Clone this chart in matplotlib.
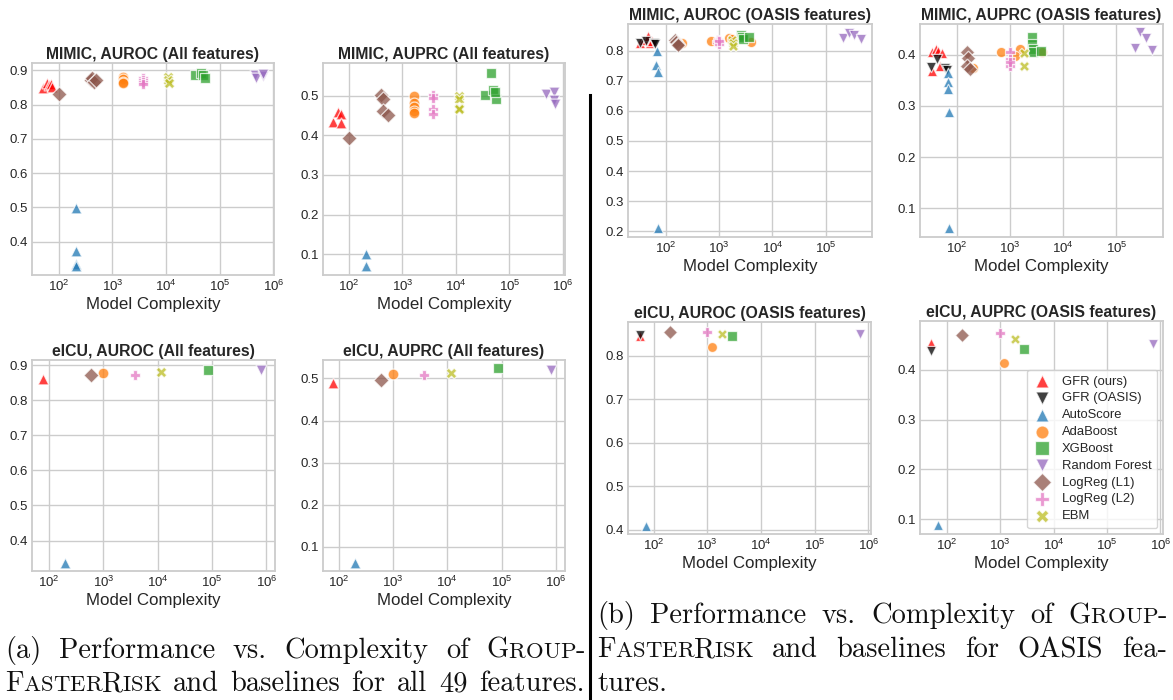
import matplotlib
matplotlib.use("Agg")
import matplotlib.pyplot as plt
from matplotlib.lines import Line2D
from matplotlib.ticker import MultipleLocator, LogLocator, NullFormatter
from matplotlib.transforms import IdentityTransform

# ---------------- data ----------------
methods = ["GFR (ours)", "GFR (OASIS)", "AutoScore", "AdaBoost", "XGBoost",
           "Random Forest", "LogReg (L1)", "LogReg (L2)", "EBM"]
colors = ["red", "black", "#1f77b4", "#ff7f0e", "#2ca02c",
          "#9467bd", "#8c564b", "#e377c2", "#bcbd22"]
markers = ["^", "v", "^", "o", "s", "v", "D", "P", "X"]

mimic_all_auroc = {
    "GFR (ours)": ([50, 60, 66, 70, 74], [0.847, 0.864, 0.856, 0.861, 0.851]),
    "AutoScore": ([205, 205, 205, 205], [0.497, 0.372, 0.335, 0.330]),
    "AdaBoost": ([1580, 1580, 1580, 1580], [0.880, 0.874, 0.867, 0.862]),
    "XGBoost": ([34000, 45000, 48000, 52000], [0.885, 0.891, 0.886, 0.876]),
    "Random Forest": ([450000, 470000, 650000, 640000], [0.886, 0.878, 0.882, 0.888]),
    "LogReg (L1)": ([100, 400, 420, 450, 500], [0.831, 0.870, 0.877, 0.866, 0.872]),
    "LogReg (L2)": ([3750, 3750, 3750, 3750], [0.878, 0.872, 0.866, 0.860]),
    "EBM": ([10800, 11000, 11200], [0.880, 0.872, 0.864]),
}
mimic_all_auprc = {
    "GFR (ours)": ([50, 62, 70, 72], [0.434, 0.459, 0.453, 0.430]),
    "AutoScore": ([205, 205], [0.102, 0.071]),
    "AdaBoost": ([1620, 1620, 1620, 1620, 1620], [0.499, 0.482, 0.470, 0.462, 0.456]),
    "XGBoost": ([35000, 45000, 50000, 55000, 54000], [0.502, 0.556, 0.514, 0.491, 0.508]),
    "Random Forest": ([480000, 690000, 690000, 700000], [0.504, 0.508, 0.489, 0.479]),
    "LogReg (L1)": ([100, 400, 440, 440, 530], [0.394, 0.502, 0.491, 0.461, 0.451]),
    "LogReg (L2)": ([3800, 3800, 3800, 3800], [0.502, 0.493, 0.466, 0.454]),
    "EBM": ([11200, 11200, 11200, 11200], [0.499, 0.491, 0.468, 0.466]),
}
eicu_all_auroc = {
    "GFR (ours)": ([78], [0.862]),
    "AutoScore": ([200], [0.337]),
    "AdaBoost": ([1000], [0.879]),
    "XGBoost": ([85000], [0.887]),
    "Random Forest": ([800000], [0.887]),
    "LogReg (L1)": ([600], [0.871]),
    "LogReg (L2)": ([3800], [0.873]),
    "EBM": ([11500], [0.880]),
}
eicu_all_auprc = {
    "GFR (ours)": ([80], [0.490]),
    "AutoScore": ([200], [0.062]),
    "AdaBoost": ([1000], [0.510]),
    "XGBoost": ([85000], [0.526]),
    "Random Forest": ([800000], [0.520]),
    "LogReg (L1)": ([600], [0.496]),
    "LogReg (L2)": ([3800], [0.508]),
    "EBM": ([11500], [0.512]),
}
mimic_oasis_auroc = {
    "GFR (ours)": ([33, 38, 45, 49, 54], [0.824, 0.835, 0.849, 0.824, 0.830]),
    "GFR (OASIS)": ([32, 43, 59, 63], [0.824, 0.833, 0.824, 0.822]),
    "AutoScore": ([68, 66, 70, 70], [0.798, 0.752, 0.730, 0.210]),
    "AdaBoost": ([200, 700, 1500, 1700, 3900], [0.826, 0.832, 0.843, 0.838, 0.827]),
    "XGBoost": ([2600, 2700, 2750, 3700], [0.852, 0.845, 0.838, 0.844]),
    "Random Forest": ([211000, 270000, 345000, 460000], [0.841, 0.857, 0.852, 0.838]),
    "LogReg (L1)": ([150, 155, 165, 170], [0.836, 0.828, 0.822, 0.818]),
    "LogReg (L2)": ([900, 950, 1000, 1000], [0.828, 0.834, 0.822, 0.830]),
    "EBM": ([1740, 1800, 1850], [0.835, 0.824, 0.815]),
}
mimic_oasis_auprc = {
    "GFR (ours)": ([33, 40, 44, 52, 33, 48], [0.405, 0.412, 0.408, 0.404, 0.368, 0.378]),
    "GFR (OASIS)": ([32, 41, 58, 63], [0.376, 0.392, 0.375, 0.371]),
    "AutoScore": ([68, 68, 68, 70, 70], [0.365, 0.346, 0.334, 0.288, 0.061]),
    "AdaBoost": ([200, 680, 1510, 1220, 3900], [0.375, 0.406, 0.412, 0.398, 0.406]),
    "XGBoost": ([2600, 2600, 2700, 2700, 3800], [0.434, 0.421, 0.411, 0.405, 0.408]),
    "Random Forest": ([223000, 283000, 355000, 480000], [0.414, 0.445, 0.432, 0.410]),
    "LogReg (L1)": ([150, 160, 150, 173], [0.405, 0.393, 0.378, 0.372]),
    "LogReg (L2)": ([980, 980, 980, 990], [0.405, 0.392, 0.378, 0.385]),
    "EBM": ([1800, 1800], [0.403, 0.378]),
}
eicu_oasis_auroc = {
    "GFR (ours)": ([55], [0.845]),
    "GFR (OASIS)": ([55], [0.848]),
    "AutoScore": ([73], [0.408]),
    "AdaBoost": ([1250], [0.821]),
    "XGBoost": ([2860], [0.845]),
    "Random Forest": ([700000], [0.850]),
    "LogReg (L1)": ([204], [0.855]),
    "LogReg (L2)": ([1000], [0.854]),
    "EBM": ([1900], [0.851]),
}
eicu_oasis_auprc = {
    "GFR (ours)": ([50], [0.453]),
    "GFR (OASIS)": ([50], [0.438]),
    "AutoScore": ([70], [0.0886]),
    "AdaBoost": ([1190], [0.4146]),
    "XGBoost": ([2750], [0.441]),
    "Random Forest": ([720000], [0.451]),
    "LogReg (L1)": ([197], [0.470]),
    "LogReg (L2)": ([1000], [0.4745]),
    "EBM": ([1860], [0.461]),
}

titles = ["MIMIC, AUROC (All features)", "MIMIC, AUPRC (All features)",
          "eICU, AUROC (All features)", "eICU, AUPRC (All features)",
          "MIMIC, AUROC (OASIS features)", "MIMIC, AUPRC (OASIS features)",
          "eICU, AUROC (OASIS features)", "eICU, AUPRC (OASIS features)"]
xlabel = "Model Complexity"

# ---------------- figure ----------------
W, H = 1173, 700
plt.rcParams["font.family"] = ["Liberation Sans", "DejaVu Sans"]
fig = plt.figure(figsize=(W / 100, H / 100), dpi=100)

def px_axes(l, t, r, b):
    return fig.add_axes([l / W, 1 - b / H, (r - l) / W, (b - t) / H])

panels = [
    (mimic_all_auroc, (32, 63, 274, 275), (10**1.50, 10**6.01), (0.303, 0.921), 60),
    (mimic_all_auprc, (323, 63, 565, 275), (10**1.514, 10**6.04), (0.048, 0.582), 60),
    (eicu_all_auroc, (32, 360, 275, 571), (10**1.687, 10**6.16), (0.313, 0.915), 60),
    (eicu_all_auprc, (323, 360, 565, 571), (10**1.71, 10**6.17), (0.042, 0.544), 60),
    (mimic_oasis_auroc, (628, 24, 872, 237), (10**1.286, 10**5.87), (0.181, 0.888), 55),
    (mimic_oasis_auprc, (920, 24, 1163, 237), (10**1.297, 10**5.88), (0.044, 0.460), 55),
    (eicu_oasis_auroc, (628, 322, 871, 534), (10**1.523, 10**6.05), (0.390, 0.878), 52),
    (eicu_oasis_auprc, (920, 321, 1163, 534), (10**1.50, 10**6.05), (0.070, 0.498), 52),
]

grid_c = "#cccccc"
axes = []
for i, (data, box, xl, yl, msize) in enumerate(panels):
    ax = px_axes(*box)
    axes.append(ax)
    for m, c, mk in zip(methods, colors, markers):
        if m not in data:
            continue
        xs, ys = data[m]
        ax.scatter(xs, ys, s=msize, c=c, marker=mk, alpha=0.75,
                   edgecolors="white", linewidths=0.9, label=m, zorder=3)
    ax.set_xscale("log")
    ax.set_xlim(*xl)
    ax.set_ylim(*yl)
    ax.yaxis.set_major_locator(MultipleLocator(0.1))
    ax.xaxis.set_major_locator(LogLocator(base=10, numticks=12))
    ax.xaxis.set_minor_formatter(NullFormatter())
    ax.grid(True, which="major", color=grid_c, lw=1.0, zorder=0)
    ax.set_axisbelow(True)
    for sp in ax.spines.values():
        sp.set_color(grid_c)
        sp.set_linewidth(1.3)
    ax.tick_params(axis="both", which="both", length=0, pad=3,
                   labelsize=9.5, colors="#262626")
    ax.set_title(titles[i], fontsize=11.3, fontweight="bold", pad=3, color="#262626")
    ax.set_xlabel(xlabel, fontsize=12.2, color="#262626", labelpad=2)

leg = axes[7].legend(loc="lower right", fontsize=9.4, frameon=True,
                     markerscale=1.3, labelspacing=0.36, handlelength=1.4,
                     handletextpad=0.8, borderpad=0.45, borderaxespad=0.45)
leg.get_frame().set_edgecolor("#cccccc")
leg.get_frame().set_facecolor("white")
for t in leg.get_texts():
    t.set_color("#262626")

# separator line
fig.add_artist(Line2D([590 / W, 590 / W], [1 - 95 / H, 0], color="black", lw=2.2))

# ---------------- captions (justified, small caps emulated) ----------------
fig.canvas.draw()
renderer = fig.canvas.get_renderer()
CAP = 20.5
SC = 0.8

def sc(word):
    out = []
    for ch in word:
        if ch.isupper() or not ch.isalpha():
            out.append((ch, 1.0))
        else:
            out.append((ch.upper(), SC))
    return out

def plain(word):
    return [(word, 1.0)]

def draw_line(words, x0, x1, ybase, justify=True):
    items = []
    widths = []
    for word in words:
        parts = []
        w = 0.0
        for txt, rel in word:
            t = fig.text(0, 0, txt, fontsize=CAP * rel, family="cmr10",
                         transform=IdentityTransform(), va="baseline", ha="left",
                         color="#111111")
            bb = t.get_window_extent(renderer)
            parts.append((t, w))
            w += bb.width
        items.append(parts)
        widths.append(w)
    if justify and len(words) > 1:
        gap = (x1 - x0 - sum(widths)) / (len(words) - 1)
    else:
        gap = CAP * 100 / 72 * 0.333
    x = x0
    for parts, w in zip(items, widths):
        for t, off in parts:
            t.set_position((x + off, H - ybase))
        x += w + gap

def words_of(s):
    return [plain(w) for w in s.split()]

line_a1 = words_of("(a) Performance vs. Complexity of") + [sc("Group-")]
line_a2 = [sc("FasterRisk")] + words_of("and baselines for all 49 features.")
line_b1 = words_of("(b) Performance vs. Complexity of") + [sc("Group-")]
line_b2 = [sc("FasterRisk")] + words_of("and baselines for OASIS fea-")
line_b3 = words_of("tures.")

draw_line(line_a1, 5, 585, 658)
draw_line(line_a2, 5, 585, 691)
draw_line(line_b1, 597, 1167, 623)
draw_line(line_b2, 597, 1167, 657)
draw_line(line_b3, 597, 1167, 691, justify=False)

fig.savefig("out.png", dpi=100)
